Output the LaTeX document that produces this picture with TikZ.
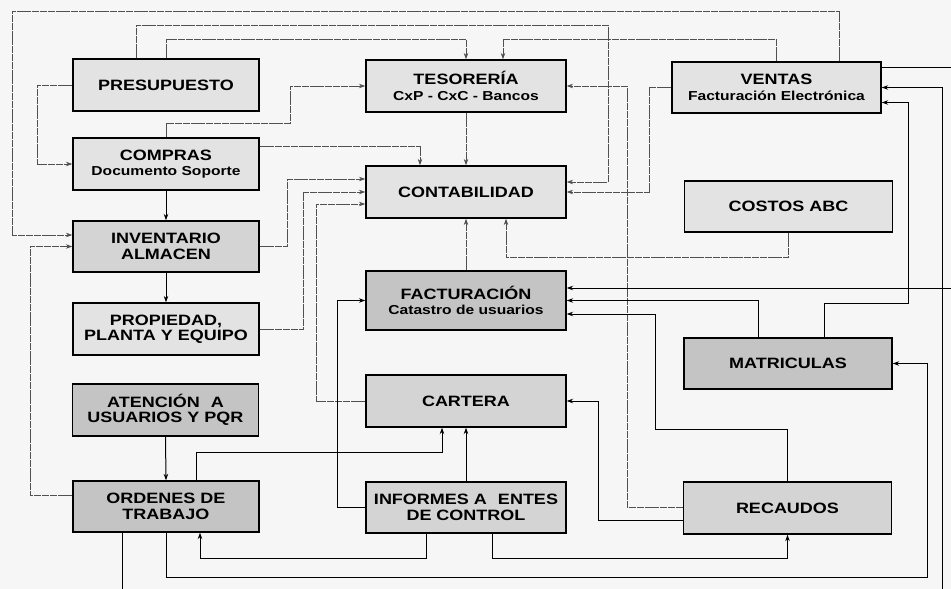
\documentclass[tikz,border=0pt]{standalone}
\usepackage{fontspec}
\setmainfont{Liberation Sans}
\newfontfamily\boxfont[FakeStretch=1.2]{Liberation Sans}
\usetikzlibrary{arrows.meta,calc}
\definecolor{bgc}{HTML}{F6F6F6}
\definecolor{fillA}{HTML}{E3E3E3}
\definecolor{fillB}{HTML}{D4D4D4}
\definecolor{fillC}{HTML}{C4C4C4}
\definecolor{faintc}{HTML}{505050}
\newcommand\subline[1]{{\fontsize{13}{15}\selectfont #1}}
\tikzset{
  mod/.style={draw=black, line width=1.3pt, inner sep=0pt, align=center,
    font={\boxfont\bfseries\fontsize{15}{15.5}\selectfont}, text=black},
  lbox/.style={mod, minimum width=186pt, minimum height=52pt},
  mbox/.style={mod, minimum width=200pt, minimum height=52pt},
  rbox/.style={mod, minimum width=208pt, minimum height=51pt},
  fa/.style={fill=fillA}, fb/.style={fill=fillB}, fc/.style={fill=fillC},
  arr/.style={-{Stealth[length=6.5pt,width=4.5pt]}},
  faint/.style={draw=faintc, line width=0.9pt, dash pattern=on 7pt off 0.8pt},
  dark/.style={draw=black, line width=1pt}
}
\begin{document}
\begin{tikzpicture}[x=1pt,y=-1pt]
\useasboundingbox (0,0) rectangle (951,589);
\fill[bgc] (0,0) rectangle (951,589);

% left column
\node[lbox,fa] (pres) at (166,85) {PRESUPUESTO};
\node[lbox,fa] (comp) at (166,164) {COMPRAS\\\subline{Documento Soporte}};
\node[lbox,fb,minimum height=51pt] (inv) at (166,246.5) {INVENTARIO\\ALMACEN};
\node[lbox,fa] (prop) at (166,329) {PROPIEDAD,\\PLANTA Y EQUIPO};
\node[lbox,fc] (aten) at (165.5,410) {ATENCIÓN\hspace{0.4em} A\\USUARIOS Y PQR};
\node[lbox,fc,minimum height=51pt] (ord) at (166,506.5) {ORDENES DE\\TRABAJO};

% middle column
\node[mbox,fa] (tes) at (466,86) {TESORERÍA\\\subline{CxP - CxC - Bancos}};
\node[mbox,fa] (cont) at (466,192) {CONTABILIDAD};
\node[mbox,fc,minimum height=59pt] (fact) at (466,300.5) {FACTURACIÓN\\\subline{Catastro de usuarios}};
\node[mbox,fb] (cart) at (466,401) {CARTERA};
\node[mbox,fb,minimum height=51pt] (inf) at (466,507.5) {INFORMES A\hspace{0.4em} ENTES\\DE CONTROL};

% right column
\node[rbox,fa,minimum width=209pt] (vent) at (776.5,87.5) {VENTAS\\\subline{Facturación Electrónica}};
\node[rbox,fa] (cost) at (788.5,206.5) {COSTOS ABC};
\node[rbox,fc] (mat) at (788,363.5) {MATRICULAS};
\node[rbox,fb,minimum height=52pt] (rec) at (787.5,508) {RECAUDOS};

% free ends at the cropped edges
\coordinate (edgeA) at (951,288);
\coordinate (edgeB) at (951,67);
\coordinate (edgeC) at (942,589);
\coordinate (edgeD) at (122,589);

% faint (upper) connectors
\draw[faint,arr] ($(vent.north)+(62.5,0)$) |- (12,11) |- ($(inv.west)+(0,-11.5)$);
\draw[faint,arr] ($(pres.north)+(-30,0)$) |- (608,25) |- ($(cont.east)+(0,-10)$);
\draw[faint,arr] (pres.north) |- ($(tes.north)+(0,-20)$) -- (tes.north);
\draw[faint,arr] (vent.north) |- ($(tes.north)+(37,-20)$) -- ($(tes.north)+(37,0)$);
\draw[faint,arr] (pres.west) -- ++(-35,0) |- (comp.west);
\draw[faint,arr] (comp.north) |- (290,123) |- (tes.west);
\draw[faint,arr] ($(comp.east)+(0,-18)$) -| ($(cont.north)+(-46,0)$);
\draw[faint,arr] (tes.south) -- (cont.north);
\draw[faint,arr] (inv.east) -- ++(28,0) |- ($(cont.west)+(0,-13)$);
\draw[faint,arr] (prop.east) -- ++(44,0) |- (cont.west);
\draw[faint,arr] (cart.west) -- ++(-49,0) |- ($(cont.west)+(0,12)$);
\draw[faint,arr] (fact.north) -- (cont.south);
\draw[faint,arr] (cost.south) |- ($(cont.south)+(40,39)$) -- ($(cont.south)+(40,0)$);
\draw[faint,arr] (vent.west) -- ++(-22,0) |- (cont.east);
\draw[faint,arr] ($(rec.west)+(0,-1)$) -- ++(-55.5,0) |- (tes.east);
\draw[faint,arr] ($(ord.west)+(0,-11.5)$) -- ++(-42,0) |- (inv.west);

% dark connectors
\draw[dark,arr] (comp.south) -- (inv.north);
\draw[dark,arr] (inv.south) -- (prop.north);
\draw[dark,arr] (aten.south) -- (ord.north);
\draw[dark,arr] (inf.west) -- ++(-28,0) |- (fact.west);
\draw[dark,arr] ($(rec.west)+(0,12)$) -- ++(-84,0) |- (cart.east);
\draw[dark,arr] (rec.north) |- (655,429) |- ($(fact.east)+(0,13.5)$);
\draw[dark,arr] ($(mat.north)+(-30,0)$) |- (fact.east);
\draw[dark,arr] (edgeA) -- ($(fact.east)+(0,-12.5)$);
\draw[dark] ($(vent.east)+(0,-20.5)$) -- (edgeB);
\draw[dark,arr] (edgeC) |- (vent.east);
\draw[dark,arr] ($(mat.north)+(36,0)$) |- (908,303) |- ($(vent.east)+(0,15)$);
\draw[dark,arr] (ord.south) |- (927,577) |- (mat.east);
\draw[dark,arr] ($(inf.south)+(-40,0)$) |- ($(ord.south)+(34,26)$) -- ($(ord.south)+(34,0)$);
\draw[dark,arr] ($(inf.south)+(26,0)$) |- ($(rec.south)+(0,24)$) -- (rec.south);
\draw[dark,arr] ($(ord.north)+(30,0)$) |- ($(cart.south)+(-24,25)$) -- ($(cart.south)+(-24,0)$);
\draw[dark,arr] (inf.north) -- (cart.south);
\draw[dark] ($(ord.south)+(-44,0)$) -- (edgeD);
\end{tikzpicture}
\end{document}
